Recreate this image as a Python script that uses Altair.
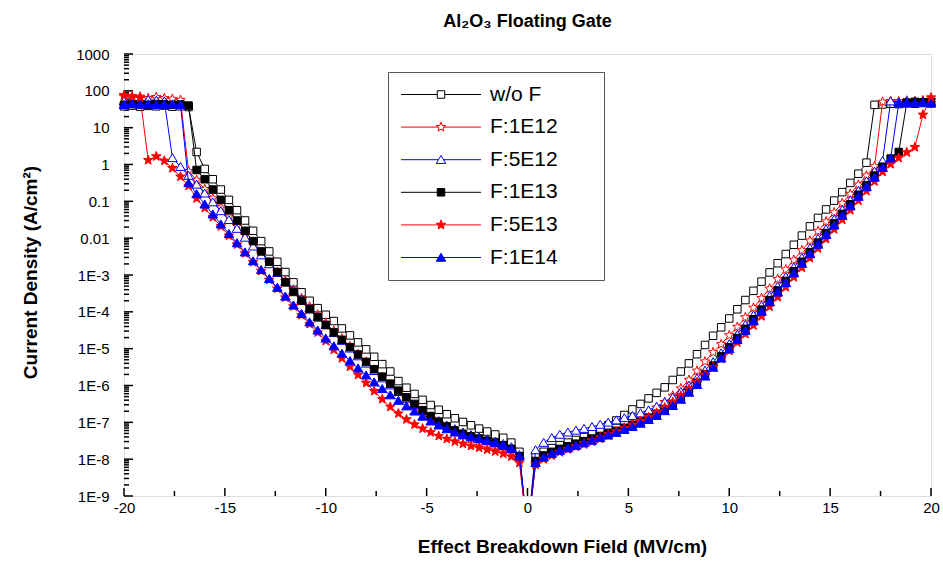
import altair as alt
import pandas as pd

# ---------------- data ----------------
E_GRID = [-20.0, -19.6, -19.2, -18.8, -18.4, -18.0, -17.6, -17.2, -16.8, -16.4,
          -16.0, -15.6, -15.2, -14.8, -14.4, -14.0, -13.6, -13.2, -12.8, -12.4,
          -12.0, -11.6, -11.2, -10.8, -10.4, -10.0, -9.6, -9.2, -8.8, -8.4,
          -8.0, -7.6, -7.2, -6.8, -6.4, -6.0, -5.6, -5.2, -4.8, -4.4,
          -4.0, -3.6, -3.2, -2.8, -2.4, -2.0, -1.6, -1.2, -0.8, -0.4,
          0.0, 0.4, 0.8, 1.2, 1.6, 2.0, 2.4, 2.8, 3.2, 3.6,
          4.0, 4.4, 4.8, 5.2, 5.6, 6.0, 6.4, 6.8, 7.2, 7.6,
          8.0, 8.4, 8.8, 9.2, 9.6, 10.0, 10.4, 10.8, 11.2, 11.6,
          12.0, 12.4, 12.8, 13.2, 13.6, 14.0, 14.4, 14.8, 15.2, 15.6,
          16.0, 16.4, 16.8, 17.2, 17.6, 18.0, 18.4, 18.8, 19.2, 19.6, 20.0]

SERIES = ["w/o F", "F:1E12", "F:5E12", "F:1E13", "F:5E13", "F:1E14"]
COLORS = ["#000000", "#ff0000", "#0000ff", "#000000", "#ff0000", "#0000ff"]
FILLS = ["#ffffff", "#ffffff", "#ffffff", "#000000", "#ff0000", "#0000ff"]

# log10 of current density (A/cm^2) on E_GRID
LOG_WOF = [1.58, 1.60, 1.57, 1.59, 1.58, 1.60, 1.57, 1.58, 1.56, 0.34,
           -0.12, -0.40, -0.68, -0.96, -1.24, -1.52, -1.80, -2.08, -2.36, -2.64,
           -2.92, -3.20, -3.47, -3.70, -3.90, -4.08, -4.25, -4.45, -4.64, -4.83,
           -5.02, -5.22, -5.42, -5.62, -5.88, -6.06, -6.23, -6.39, -6.53, -6.66,
           -6.78, -6.89, -6.99, -7.08, -7.17, -7.25, -7.33, -7.42, -7.55, -7.80,
           -10.0, -7.95, -7.80, -7.70, -7.62, -7.55, -7.48, -7.40, -7.30, -7.20,
           -7.08, -6.95, -6.80, -6.65, -6.50, -6.35, -6.20, -6.05, -5.85, -5.62,
           -5.40, -5.15, -4.90, -4.65, -4.42, -4.18, -3.93, -3.68, -3.43, -3.18,
           -2.93, -2.68, -2.43, -2.18, -1.93, -1.68, -1.45, -1.22, -0.98, -0.75,
           -0.50, -0.25, 0.05, 1.62, 1.63, 1.65, 1.64, 1.66, 1.65, 1.67, 1.66]

LOG_1E12 = [1.85, 1.82, 1.84, 1.80, 1.83, 1.80, 1.78, 1.75, -0.18, -0.42,
            -0.67, -0.92, -1.17, -1.42, -1.67, -1.92, -2.17, -2.42, -2.67, -2.92,
            -3.16, -3.40, -3.63, -3.86, -4.08, -4.30, -4.52, -4.73, -4.94, -5.15,
            -5.36, -5.57, -5.78, -5.98, -6.18, -6.37, -6.55, -6.72, -6.88, -7.02,
            -7.15, -7.26, -7.36, -7.45, -7.53, -7.60, -7.67, -7.74, -7.83, -8.00,
            -10.0, -8.10, -7.95, -7.85, -7.78, -7.72, -7.66, -7.60, -7.53, -7.45,
            -7.36, -7.26, -7.15, -7.02, -6.88, -6.74, -6.60, -6.45, -6.28, -6.08,
            -5.85, -5.60, -5.35, -5.10, -4.88, -4.64, -4.41, -4.15, -3.89, -3.63,
            -3.37, -3.11, -2.85, -2.59, -2.33, -2.07, -1.81, -1.55, -1.30, -1.05,
            -0.80, -0.55, -0.30, -0.05, 1.70, 1.72, 1.71, 1.73, 1.72, 1.74, 1.75]

LOG_5E12 = [1.72, 1.75, 1.73, 1.76, 1.74, 1.72, 0.18, -0.06, -0.30, -0.54,
            -0.78, -1.02, -1.26, -1.50, -1.74, -1.98, -2.22, -2.46, -2.70, -2.94,
            -3.18, -3.42, -3.66, -3.90, -4.13, -4.35, -4.57, -4.78, -4.99, -5.20,
            -5.40, -5.60, -5.80, -5.99, -6.17, -6.35, -6.52, -6.68, -6.83, -6.96,
            -7.08, -7.18, -7.27, -7.34, -7.40, -7.46, -7.52, -7.58, -7.67, -7.88,
            -10.0, -7.75, -7.55, -7.42, -7.33, -7.27, -7.22, -7.17, -7.12, -7.06,
            -7.00, -6.94, -6.88, -6.82, -6.75, -6.67, -6.57, -6.45, -6.32, -6.17,
            -6.00, -5.80, -5.59, -5.36, -5.12, -4.87, -4.61, -4.35, -4.09, -3.83,
            -3.57, -3.31, -3.05, -2.79, -2.53, -2.27, -2.01, -1.75, -1.49, -1.23,
            -0.97, -0.71, -0.45, -0.19, 0.10, 1.72, 1.70, 1.73, 1.71, 1.72, 1.70]

LOG_1E13 = [1.62, 1.64, 1.63, 1.62, 1.64, 1.63, 1.62, 1.63, 1.60, -0.15,
            -0.40, -0.68, -0.96, -1.24, -1.52, -1.80, -2.08, -2.36, -2.64, -2.92,
            -3.20, -3.46, -3.70, -3.93, -4.15, -4.36, -4.56, -4.76, -4.96, -5.16,
            -5.36, -5.56, -5.76, -5.95, -6.14, -6.32, -6.50, -6.67, -6.83, -6.98,
            -7.11, -7.22, -7.31, -7.38, -7.44, -7.50, -7.56, -7.63, -7.72, -7.92,
            -10.0, -8.05, -7.90, -7.80, -7.72, -7.65, -7.58, -7.51, -7.44, -7.37,
            -7.30, -7.23, -7.15, -7.07, -6.98, -6.88, -6.77, -6.64, -6.50, -6.33,
            -6.14, -5.93, -5.70, -5.46, -5.21, -4.96, -4.71, -4.46, -4.20, -3.94,
            -3.68, -3.42, -3.16, -2.90, -2.64, -2.38, -2.12, -1.86, -1.60, -1.34,
            -1.08, -0.82, -0.56, -0.30, -0.06, 0.16, 0.34, 1.68, 1.70, 1.69, 1.70]

LOG_5E13 = [1.88, 1.85, 1.82, 0.12, 0.22, 0.10, -0.10, -0.33, -0.58, -0.92,
            -1.18, -1.43, -1.68, -1.93, -2.17, -2.41, -2.65, -2.89, -3.13, -3.37,
            -3.61, -3.85, -4.09, -4.33, -4.56, -4.79, -5.03, -5.26, -5.49, -5.71,
            -5.93, -6.15, -6.37, -6.58, -6.76, -6.92, -7.06, -7.17, -7.27, -7.37,
            -7.45, -7.52, -7.58, -7.64, -7.69, -7.74, -7.79, -7.85, -7.93, -8.10,
            -10.0, -8.15, -8.00, -7.90, -7.81, -7.73, -7.65, -7.57, -7.49, -7.41,
            -7.33, -7.25, -7.16, -7.07, -6.97, -6.86, -6.74, -6.60, -6.45, -6.28,
            -6.10, -5.91, -5.71, -5.50, -5.28, -5.06, -4.83, -4.60, -4.37, -4.12,
            -3.86, -3.60, -3.33, -3.06, -2.80, -2.54, -2.28, -2.02, -1.76, -1.50,
            -1.24, -0.98, -0.72, -0.46, -0.20, 0.01, 0.18, 0.33, 0.47, 1.35, 1.82]

LOG_1E14 = [1.62, 1.65, 1.63, 1.64, 1.62, 1.63, 1.64, 1.62, -0.50, -0.80,
            -1.08, -1.35, -1.62, -1.88, -2.13, -2.38, -2.62, -2.86, -3.10, -3.34,
            -3.58, -3.82, -4.05, -4.28, -4.50, -4.72, -4.93, -5.13, -5.33, -5.53,
            -5.72, -5.91, -6.09, -6.26, -6.41, -6.56, -6.70, -6.84, -6.97, -7.08,
            -7.18, -7.27, -7.34, -7.40, -7.45, -7.50, -7.55, -7.62, -7.72, -7.92,
            -10.0, -8.10, -7.95, -7.85, -7.77, -7.70, -7.63, -7.56, -7.49, -7.42,
            -7.35, -7.28, -7.20, -7.12, -7.03, -6.93, -6.82, -6.69, -6.55, -6.38,
            -6.19, -5.98, -5.75, -5.51, -5.26, -5.01, -4.76, -4.51, -4.25, -3.99,
            -3.73, -3.47, -3.21, -2.95, -2.69, -2.43, -2.17, -1.91, -1.65, -1.39,
            -1.13, -0.87, -0.61, -0.35, -0.09, 0.17, 1.66, 1.68, 1.67, 1.68, 1.66]

LOGS = [LOG_WOF, LOG_1E12, LOG_5E12, LOG_1E13, LOG_5E13, LOG_1E14]

X_TICKS = [-20, -15, -10, -5, 0, 5, 10, 15, 20]
X_MINOR = [-17.5, -12.5, -7.5, -2.5, 2.5, 7.5, 12.5, 17.5]
Y_TICKS = [1e-9, 1e-8, 1e-7, 1e-6, 1e-5, 1e-4, 1e-3, 1e-2, 1e-1, 1, 10, 100, 1000]
Y_TICK_LABELS = ["1E-9", "1E-8", "1E-7", "1E-6", "1E-5", "1E-4", "1E-3",
                 "0.01", "0.1", "1", "10", "100", "1000"]
Y_MINOR = [m * d for d in Y_TICKS[:-1] for m in range(2, 10)]

# ---------------- marker shapes ----------------
SQ = "M-0.75,-0.75H0.75V0.75H-0.75Z"
ST = ("M0,-1L0.247,-0.34L0.951,-0.309L0.399,0.13L0.588,0.809L0,0.42"
      "L-0.588,0.809L-0.399,0.13L-0.951,-0.309L-0.247,-0.34Z")
TR = "M0,-0.85L0.95,0.75L-0.95,0.75Z"
MARKS = [SQ, ST, TR, SQ, ST, TR]
# legend symbols: line + marker; trailing move-to reserves room for the label column
LEG_END = "M29.7,0"
LEG_MARKS = ["M-8,0H-0.75M0.75,0H8" + SQ + LEG_END, "M-8,0H-0.56M0.56,0H8" + ST + LEG_END,
             "M-8,0H-0.5M0.5,0H8" + TR + LEG_END, "M-8,0H8" + SQ + LEG_END,
             "M-8,0H8" + ST + LEG_END, "M-8,0H8" + TR + LEG_END]

rows = []
for name, logs in zip(SERIES, LOGS):
    for e, l in zip(E_GRID, logs):
        rows.append({"series": name, "E": e, "J": 10 ** l})
df = pd.DataFrame(rows)

W, H = 807, 442
FONT = "Liberation Sans"

xs = alt.Scale(domain=[-20, 20], nice=False, zero=False)
ys = alt.Scale(type="log", domain=[1e-9, 1000], nice=False)

label_expr = "[" + ",".join("'%s'" % t for t in Y_TICK_LABELS) + "][round(log(datum.value)/LN10)+9]"

x_axis = alt.Axis(values=X_TICKS, labelExpr="'' + datum.value", ticks=False, domain=False,
                  grid=False, labelFont=FONT, labelFontSize=15, labelPadding=4,
                  labelFlush=False, labelColor="black",
                  title="Effect Breakdown Field (MV/cm)", titleFont=FONT, titleFontSize=19,
                  titleFontWeight="bold", titleColor="black", titleX=438, titleY=50,
                  titleBaseline="middle", titleAlign="center")
y_axis = alt.Axis(values=Y_TICKS, labelExpr=label_expr, ticks=False, domain=False, grid=False,
                  labelFont=FONT, labelFontSize=15, labelPadding=15, labelFlush=False,
                  labelOverlap=False, labelColor="black",
                  title="Current Density (A/cm²)", titleFont=FONT, titleFontSize=19,
                  titleFontWeight="bold", titleColor="black", titleX=-94, titleY=218,
                  titleBaseline="middle", titleAlign="center", titleAngle=270)

x_enc = alt.X("E:Q", scale=xs, axis=x_axis)
y_enc = alt.Y("J:Q", scale=ys, axis=y_axis)

layers = []
# inward ticks
layers.append(alt.Chart(pd.DataFrame({"J": Y_TICKS})).mark_rule(color="black", strokeWidth=1.5)
              .encode(y=y_enc, x=alt.value(0), x2=alt.value(9)))
layers.append(alt.Chart(pd.DataFrame({"J": Y_MINOR})).mark_rule(color="black", strokeWidth=1.5)
              .encode(y=y_enc, x=alt.value(0), x2=alt.value(5)))
layers.append(alt.Chart(pd.DataFrame({"E": X_TICKS})).mark_rule(color="black", strokeWidth=1.5)
              .encode(x=x_enc, y=alt.value(H), y2=alt.value(H - 8)))
layers.append(alt.Chart(pd.DataFrame({"E": X_MINOR})).mark_rule(color="black", strokeWidth=1.5)
              .encode(x=x_enc, y=alt.value(H), y2=alt.value(H - 5)))

for name, col, fil, shp in zip(SERIES, COLORS, FILLS, MARKS):
    sub = df[df["series"] == name]
    layers.append(alt.Chart(sub).mark_line(color=col, strokeWidth=1, clip=True)
                  .encode(x=x_enc, y=y_enc))
    layers.append(alt.Chart(sub[sub["J"] >= 1e-9])
                  .mark_point(shape=shp, size=100, filled=True, fill=fil, stroke=col,
                              strokeWidth=1, opacity=1)
                  .encode(x=x_enc, y=y_enc))

leg = alt.Legend(title=None, orient="none", legendX=264, legendY=18, padding=12,
                 rowPadding=10.6, symbolSize=100, symbolOffset=30.5, labelOffset=38.5,
                 labelFont=FONT, labelFontSize=21, labelColor="black", labelLimit=400,
                 strokeColor="#555555", fillColor="white", symbolStrokeWidth=1)
layers.append(alt.Chart(df[df["E"] == 0.0])
              .mark_point(filled=False, opacity=1, strokeWidth=1, clip=True)
              .encode(x=x_enc, y=y_enc,
                      color=alt.Color("series:N", scale=alt.Scale(domain=SERIES, range=COLORS), legend=leg),
                      fill=alt.Fill("series:N", scale=alt.Scale(domain=SERIES, range=FILLS), legend=leg),
                      shape=alt.Shape("series:N", scale=alt.Scale(domain=SERIES, range=LEG_MARKS), legend=leg)))

chart = (alt.layer(*layers)
         .properties(width=W, height=H,
                     title=alt.TitleParams("Al₂O₃  Floating Gate", font=FONT, fontSize=18,
                                           fontWeight="bold", anchor="middle", offset=16,
                                           color="black"),
                     padding={"left": 124, "top": 54, "right": 12, "bottom": 67},
                     autosize=alt.AutoSizeParams(type="none"))
         .configure_view(stroke="black", strokeWidth=3)
         .configure(background="white"))

chart.save("out.html", embed_options={"renderer": "svg", "actions": False})
